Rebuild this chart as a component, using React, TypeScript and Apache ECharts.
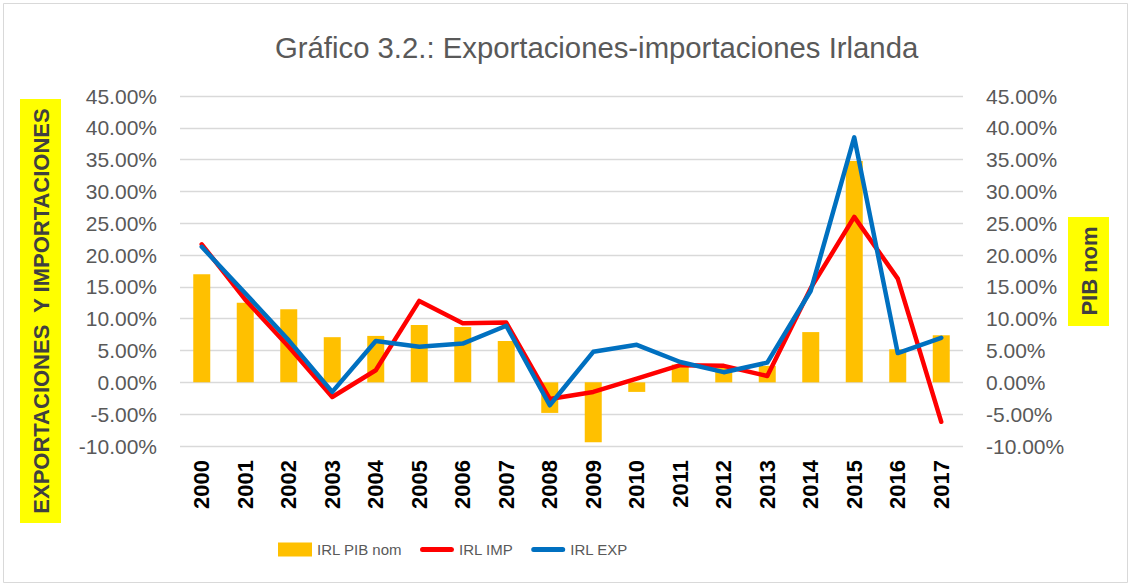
import React, { useEffect, useRef } from "react";
import * as echarts from "echarts";

const years = ["2000", "2001", "2002", "2003", "2004", "2005", "2006", "2007", "2008", "2009", "2010", "2011", "2012", "2013", "2014", "2015", "2016", "2017"];
const pibNom = [17.0, 12.5, 11.5, 7.1, 7.3, 9.0, 8.7, 6.5, -4.8, -9.4, -1.5, 2.8, 2.3, 2.6, 7.9, 34.8, 5.2, 7.4];
const irlImp = [21.7, 13.0, 5.6, -2.3, 1.9, 12.8, 9.3, 9.4, -2.6, -1.5, 0.6, 2.7, 2.6, 1.0, 14.8, 26.0, 16.3, -6.2];
const irlExp = [21.3, 14.0, 6.6, -1.5, 6.5, 5.6, 6.1, 8.9, -3.6, 4.8, 5.9, 3.2, 1.6, 3.1, 14.4, 38.5, 4.6, 7.0];

const titleText = "Gráfico 3.2.: Exportaciones-importaciones Irlanda";
const leftAxisName = "EXPORTACIONES  Y IMPORTACIONES";
const rightAxisName = "PIB nom";
const seriesNames = ["IRL PIB nom", "IRL IMP", "IRL EXP"];

const FONT = '"Liberation Sans", Arial, sans-serif';
const pct = (v: number) => `${v.toFixed(2)}%`;
const lineIcon = "path://M2.5,0 H31.5 A2.5,2.5 0 0 1 31.5,5 H2.5 A2.5,2.5 0 0 1 2.5,0 Z";

export default function App() {
  const ref = useRef<HTMLDivElement>(null);
  useEffect(() => {
    if (!ref.current) return;
    const chart = echarts.init(ref.current, null, { renderer: "svg" });
    chart.setOption({
      animation: false,
      backgroundColor: "#ffffff",
      title: {
        text: titleText,
        left: 275,
        top: 33,
        padding: 0,
        textStyle: { fontFamily: FONT, fontSize: 29.3, fontWeight: "normal", color: "#595959" },
      },
      legend: {
        left: 278,
        top: 542,
        padding: 0,
        itemWidth: 34,
        itemHeight: 14,
        itemGap: 18,
        textStyle: { fontFamily: FONT, fontSize: 15, color: "#595959" },
        data: [
          { name: seriesNames[0], icon: "rect" },
          { name: seriesNames[1], icon: lineIcon },
          { name: seriesNames[2], icon: lineIcon },
        ],
      },
      grid: { left: 180, right: 169, top: 96, bottom: 142, containLabel: false },
      xAxis: {
        type: "category",
        data: years,
        boundaryGap: true,
        axisLine: { show: false },
        axisTick: { show: false },
        axisLabel: {
          rotate: 90,
          margin: 14,
          fontFamily: FONT,
          fontSize: 22,
          fontWeight: "bold",
          color: "#000000",
          interval: 0,
        },
      },
      yAxis: [
        {
          type: "value",
          min: -10,
          max: 45,
          interval: 5,
          axisLine: { show: false },
          axisTick: { show: false },
          splitLine: { lineStyle: { color: "#d9d9d9", width: 1.3 } },
          axisLabel: { formatter: pct, margin: 23, fontFamily: FONT, fontSize: 21, color: "#595959" },
        },
        {
          type: "value",
          min: -10,
          max: 45,
          interval: 5,
          position: "right",
          axisLine: { show: false },
          axisTick: { show: false },
          splitLine: { show: false },
          axisLabel: { formatter: pct, margin: 23, fontFamily: FONT, fontSize: 21, color: "#595959" },
        },
      ],
      series: [
        {
          name: seriesNames[0],
          type: "bar",
          yAxisIndex: 1,
          data: pibNom,
          barWidth: 17,
          itemStyle: { color: "#FFC000" },
        },
        {
          name: seriesNames[1],
          type: "line",
          yAxisIndex: 0,
          data: irlImp,
          symbol: "none",
          lineStyle: { color: "#FF0000", width: 4.5, cap: "round", join: "round" },
          itemStyle: { color: "#FF0000" },
        },
        {
          name: seriesNames[2],
          type: "line",
          yAxisIndex: 0,
          data: irlExp,
          symbol: "none",
          lineStyle: { color: "#0070C0", width: 4.5, cap: "round", join: "round" },
          itemStyle: { color: "#0070C0" },
        },
      ],
      graphic: [
        {
          type: "rect",
          shape: { x: 3.5, y: 3.5, width: 1124, height: 579 },
          style: { fill: "none", stroke: "#d9d9d9", lineWidth: 1 },
          silent: true,
        },
        {
          type: "rect",
          shape: { x: 20, y: 99, width: 41, height: 424 },
          style: { fill: "#FFFF00" },
          silent: true,
        },
        {
          type: "text",
          x: 41,
          y: 311,
          rotation: Math.PI / 2,
          style: {
            text: leftAxisName,
            fontFamily: FONT,
            fontSize: 22,
            fontWeight: "bold",
            fill: "#404040",
            align: "center",
            verticalAlign: "middle",
          },
          silent: true,
        },
        {
          type: "rect",
          shape: { x: 1068, y: 217, width: 41, height: 109 },
          style: { fill: "#FFFF00" },
          silent: true,
        },
        {
          type: "text",
          x: 1089,
          y: 271,
          rotation: Math.PI / 2,
          style: {
            text: rightAxisName,
            fontFamily: FONT,
            fontSize: 22,
            fontWeight: "bold",
            fill: "#404040",
            align: "center",
            verticalAlign: "middle",
          },
          silent: true,
        },
      ],
    });
    return () => chart.dispose();
  }, []);
  return (
    <div
      ref={ref}
      style={{ position: "absolute", left: 0, top: 0, width: 1132, height: 588 }}
    />
  );
}
